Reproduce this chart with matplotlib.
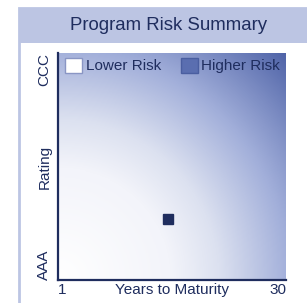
import matplotlib
matplotlib.use("Agg")
import matplotlib.pyplot as plt
import matplotlib.patches as patches
from matplotlib.colors import LinearSegmentedColormap
import numpy as np

plt.rcParams['font.family'] = ['Liberation Sans', 'DejaVu Sans']

# dane
title = "Program Risk Summary"
x_label = "Years to Maturity"
y_label = "Rating"
x_ticks = [1, 30]
x_ticklabels = ["1", "30"]
ratings = ["AAA", "AA", "A", "BBB", "BB", "B", "CCC"]
legend_labels = ["Lower Risk", "Higher Risk"]
program_years = [15]
program_rating = [1.6]  # indeks w liście ratings (AAA = 0)

navy = "#1f2d5e"
band = "#bcc5e3"

W, H = 307, 303
fig = plt.figure(figsize=(W / 100, H / 100), dpi=100)
fig.patch.set_facecolor("white")

# panel z tytułem (pod osiami)
fig.add_artist(patches.Rectangle((19 / W, -0.1), 1.2, 1 - 8 / H + 0.1, transform=fig.transFigure,
                                 facecolor="white", edgecolor=band, linewidth=2, zorder=-2))
fig.add_artist(patches.Rectangle((19 / W, 1 - 43 / H), 1.2, 35 / H, transform=fig.transFigure,
                                 facecolor=band, edgecolor="none", zorder=-1))
fig.text(169 / W, 1 - 26 / H, title, ha="center", va="center", fontsize=13.4, color=navy)

ax = fig.add_axes([58 / W, 1 - 280 / H, 228 / W, 227 / H])
y_max = len(ratings) - 1

# gradient tła - promieniowy od lewego dolnego rogu
u, v = np.meshgrid(np.linspace(0, 1, 200), np.linspace(0, 1, 200))
t = np.sqrt(u ** 2 + v ** 2) / np.sqrt(2)
cmap = LinearSegmentedColormap.from_list(
    "risk", [(0, "#ffffff"), (0.35, "#f3f4fa"), (0.5, "#dce1f0"), (0.72, "#a2afda"), (1, "#5064a8")])
ax.imshow(t, cmap=cmap, origin="lower", extent=[x_ticks[0], x_ticks[1], 0, y_max],
          aspect="auto", vmin=0, vmax=1, interpolation="bilinear")

ax.plot(program_years, program_rating, "s", color=navy, markersize=7.2)

ax.set_xlim(x_ticks[0], x_ticks[1])
ax.set_ylim(0, y_max)
for s in ["top", "right"]:
    ax.spines[s].set_visible(False)
for s in ["left", "bottom"]:
    ax.spines[s].set_color(navy)
    ax.spines[s].set_linewidth(1.6)
ax.set_xticks([])
ax.set_yticks([])

# etykiety osi
tr = ax.transAxes
fs = 11
ax.text(0.02, -0.015, x_ticklabels[0], transform=tr, ha="center", va="top", fontsize=fs, color=navy)
ax.text(1.0, -0.015, x_ticklabels[1], transform=tr, ha="right", va="top", fontsize=fs, color=navy)
ax.text(0.5, -0.015, x_label, transform=tr, ha="center", va="top", fontsize=fs, color=navy)
ax.text(-0.06, 1.0, ratings[-1], transform=tr, ha="center", va="top", rotation=90, fontsize=fs, color=navy)
ax.text(-0.06, 0.0, ratings[0], transform=tr, ha="center", va="bottom", rotation=90, fontsize=fs, color=navy)
ax.text(-0.06, 0.5, y_label, transform=tr, ha="center", va="center", rotation=90, fontsize=fs, color=navy)

# legenda
handles = [patches.Patch(facecolor="white", edgecolor="#8a96c4"),
           patches.Patch(facecolor="#5a6eb0", edgecolor="#4a5ea0")]
leg = ax.legend(handles, legend_labels, ncol=2, loc="upper left", bbox_to_anchor=(-0.01, 1.02),
                frameon=False, fontsize=11, handlelength=1.15, handleheight=1.15,
                handletextpad=0.2, columnspacing=1.3, borderaxespad=0.2)
for txt in leg.get_texts():
    txt.set_color(navy)

fig.savefig("out.png", dpi=100)
